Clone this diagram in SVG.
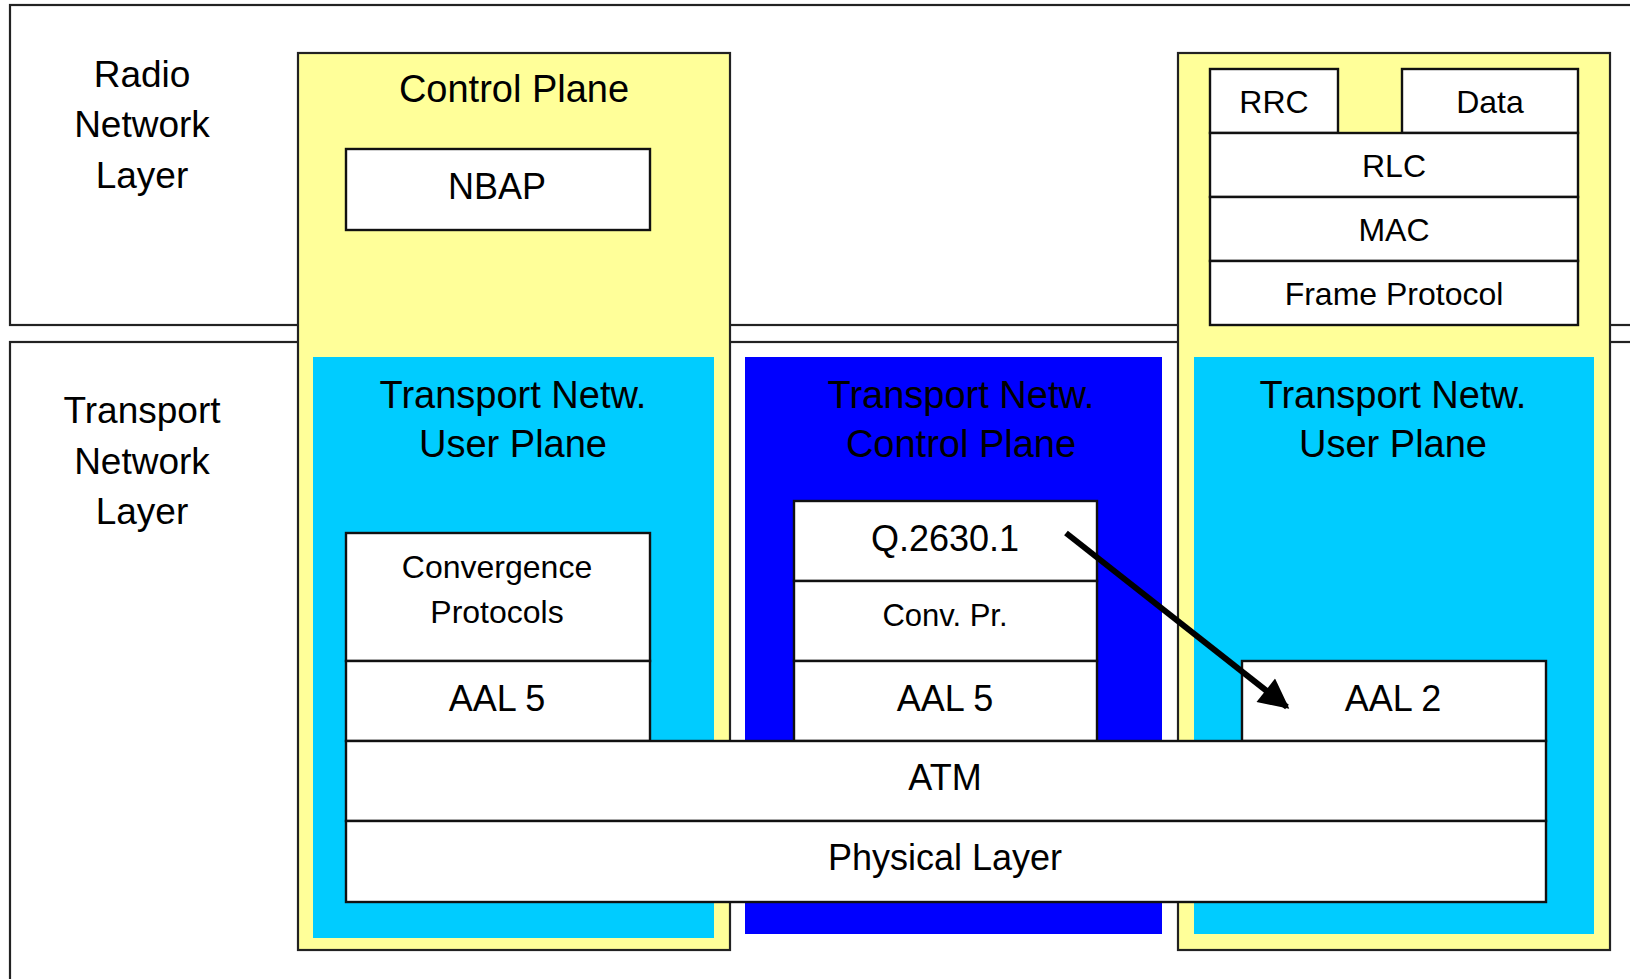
<svg xmlns="http://www.w3.org/2000/svg" width="1630" height="979" viewBox="0 0 1630 979">
<defs>
<style>
.layer{fill:#fff;stroke:#222;stroke-width:2.2}
.yel{fill:#FFFF99;stroke:#222;stroke-width:2.2}
.cyan{fill:#00CCFF}
.blue{fill:#0000FF}
.box{fill:#fff;stroke:#111;stroke-width:2.4}
text{font-family:"Liberation Sans",Arial,sans-serif;fill:#000;text-anchor:middle}
.t37{font-size:37px}
.t38{font-size:38px}
.t36{font-size:36px}
.t32{font-size:32px}
.t31{font-size:31px}
</style>
<marker id="ah" viewBox="0 0 10 10" refX="9" refY="5" markerWidth="5.5" markerHeight="5" orient="auto" markerUnits="strokeWidth">
<path d="M0,0 L10,5 L0,10 z" fill="#000"/>
</marker>
</defs>
<rect width="1630" height="979" fill="#fff"/>
<g id="radio-network-layer">
<rect class="layer" x="10" y="5" width="1640" height="320"/>
<text class="t37" x="142" y="87">Radio</text>
<text class="t37" x="142" y="137">Network</text>
<text class="t37" x="142" y="188">Layer</text>
</g>
<g id="transport-network-layer">
<rect class="layer" x="10" y="342" width="1640" height="660"/>
<text class="t37" x="142" y="423">Transport</text>
<text class="t37" x="142" y="474">Network</text>
<text class="t37" x="142" y="524">Layer</text>
</g>
<g id="control-plane">
<rect class="yel" x="298" y="53" width="432" height="897"/>
<text class="t38" x="514" y="102">Control Plane</text>
</g>
<g id="nbap">
<rect class="box" x="346" y="149" width="304" height="81"/>
<text class="t36" x="497" y="199">NBAP</text>
</g>
<g id="user-plane-yellow">
<rect class="yel" x="1178" y="53" width="432" height="897"/>
</g>
<g id="tn-user-plane-left">
<rect class="cyan" x="313" y="357" width="401" height="581"/>
<text class="t38" x="513" y="408">Transport Netw.</text>
<text class="t38" x="513" y="457">User Plane</text>
</g>
<g id="tn-control-plane">
<rect class="blue" x="745" y="357" width="417" height="577"/>
<text class="t38" x="961" y="408">Transport Netw.</text>
<text class="t38" x="961" y="457">Control Plane</text>
</g>
<g id="tn-user-plane-right">
<rect class="cyan" x="1194" y="357" width="400" height="577"/>
<text class="t38" x="1393" y="408">Transport Netw.</text>
<text class="t38" x="1393" y="457">User Plane</text>
</g>
<g id="rrc">
<rect class="box" x="1210" y="69" width="128" height="64"/>
<text class="t32" x="1274" y="113">RRC</text>
</g>
<g id="data">
<rect class="box" x="1402" y="69" width="176" height="64"/>
<text class="t32" x="1490" y="113">Data</text>
</g>
<g id="rlc">
<rect class="box" x="1210" y="133" width="368" height="64"/>
<text class="t32" x="1394" y="177">RLC</text>
</g>
<g id="mac">
<rect class="box" x="1210" y="197" width="368" height="64"/>
<text class="t32" x="1394" y="241">MAC</text>
</g>
<g id="frame-protocol">
<rect class="box" x="1210" y="261" width="368" height="64"/>
<text class="t32" x="1394" y="305">Frame Protocol</text>
</g>
<g id="convergence-protocols">
<rect class="box" x="346" y="533" width="304" height="128"/>
<text class="t32" x="497" y="578">Convergence</text>
<text class="t32" x="497" y="623">Protocols</text>
</g>
<g id="aal5-left">
<rect class="box" x="346" y="661" width="304" height="80"/>
<text class="t36" x="497" y="711">AAL 5</text>
</g>
<g id="q2630">
<rect class="box" x="794" y="501" width="303" height="80"/>
<text class="t36" x="945" y="551">Q.2630.1</text>
</g>
<g id="conv-pr">
<rect class="box" x="794" y="581" width="303" height="80"/>
<text class="t31" x="945" y="626">Conv. Pr.</text>
</g>
<g id="aal5-mid">
<rect class="box" x="794" y="661" width="303" height="80"/>
<text class="t36" x="945" y="711">AAL 5</text>
</g>
<g id="aal2">
<rect class="box" x="1242" y="661" width="304" height="80"/>
<text class="t36" x="1393" y="711">AAL 2</text>
</g>
<g id="atm">
<rect class="box" x="346" y="741" width="1200" height="80"/>
<text class="t36" x="945" y="790">ATM</text>
</g>
<g id="physical-layer">
<rect class="box" x="346" y="821" width="1200" height="81"/>
<text class="t36" x="945" y="870">Physical Layer</text>
</g>
<g id="connectors">
<line x1="1066" y1="533" x2="1287" y2="707" stroke="#000" stroke-width="6" marker-end="url(#ah)"/>
</g>
</svg>
